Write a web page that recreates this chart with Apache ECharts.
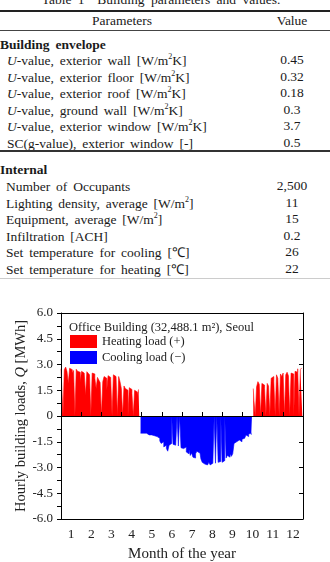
<!DOCTYPE html>
<html>
<head>
<meta charset="utf-8">
<script src="https://cdn.jsdelivr.net/npm/echarts@6/dist/echarts.min.js"></script>
<style>
body{margin:0;width:330px;height:562px;position:relative;overflow:hidden;background:#fff;font-family:'Liberation Serif','Times New Roman',serif;color:#1a1a1a;}
.t{position:absolute;white-space:nowrap;font-size:13.5px;line-height:16px;word-spacing:2.5px;}
.v{position:absolute;width:80px;left:252px;text-align:center;font-size:13.5px;line-height:16px;}
.rule{position:absolute;left:0;width:330px;background:#222;}
sup{font-size:8px;line-height:0;vertical-align:6px;}
#chart{position:absolute;left:0;top:290px;width:330px;height:272px;}
</style>
</head>
<body>
<div id="table"></div>
<div id="chart"></div>
<script>
// table text
var tableTitle = 'Table 1&nbsp; Building parameters and values.';
var envelopeRows = [
    ['<i>U</i>-value, exterior wall [W/m<sup>2</sup>K]', '0.45'],
    ['<i>U</i>-value, exterior floor [W/m<sup>2</sup>K]', '0.32'],
    ['<i>U</i>-value, exterior roof [W/m<sup>2</sup>K]', '0.18'],
    ['<i>U</i>-value, ground wall [W/m<sup>2</sup>K]', '0.3'],
    ['<i>U</i>-value, exterior window [W/m<sup>2</sup>K]', '3.7'],
    ['SC(g-value), exterior window [-]', '0.5']
];
var internalRows = [
    ['Number of Occupants', '2,500'],
    ['Lighting density, average [W/m<sup>2</sup>]', '11'],
    ['Equipment, average [W/m<sup>2</sup>]', '15'],
    ['Infiltration [ACH]', '0.2'],
    ['Set temperature for cooling [℃]', '26'],
    ['Set temperature for heating [℃]', '22']
];

// chart data: day of year of first point, one point every 2 days
var dayStep = 2;
var heatStartDay1 = 0;
var coolStartDay = 120;
var heatStartDay2 = 290;
var months = ['1','2','3','4','5','6','7','8','9','10','11','12'];
var heatJanApr = [
    2.75, 2.8, 0, 2.7, 2.85, 2.6, 1.9, 2.78, 2.7, 2.5, 2.65, 0, 2.72, 2.6, 2.55, 2.0,
    2.6, 2.62, 2.5, 1.2, 2.58, 2.55, 2.4, 0, 2.5, 2.45, 2.2, 1.6, 2.25, 2.1,
    1.95, 0, 2.0, 2.3, 2.2, 1.5, 2.35, 2.25, 2.1, 0, 2.4, 2.3, 2.2, 0, 2.3,
    2.0, 1.6, 0, 1.75, 1.6, 1.5, 0, 1.65, 1.55, 1.3, 0, 1.5, 1.4, 1.2, 1.55
];
var coolMayOct = [
    -1.0, -1.05, -1.0, -1.1, -1.0, -1.05, -1.1, -1.0,
    -1.1, -1.05, -1.15, -1.1, -1.2, -1.1, -1.3,
    -1.45, -1.6, -1.5, -1.8, -1.7,
    -1.9, -2.05, -1.7,
    -1.6, 0, -1.65, -1.7, -1.6, 0, -1.75, 0,
    -1.85, -1.9, -2.0, -1.8, -2.1, -2.2, -1.95, -2.3, -2.15, -2.4, -2.45, -2.2,
    -2.05, -2.15, -2.0, -2.5,
    -2.7, -2.8, -2.75, -2.85, -2.8, -2.7, -2.85, -2.75, -2.8,
    0, -2.75, 0, -2.7, -2.65, 0, -2.7, -2.6, 0,
    -2.45, -2.3, -2.4, -2.2, -2.35, -2.2,
    -1.6, -1.5, -1.55, -1.4, -1.3, -1.5, -1.35, -1.3,
    -1.2, -1.1, -1.2, -1.05, -1.0, -1.1
];
var heatOctDec = [
    1.6, 0.9, 0, 1.7, 2.0, 1.85, 0, 1.9, 1.8, 1.6, 0, 1.9, 1.75, 0,
    2.2, 2.3, 2.0, 0, 2.4, 2.2, 0, 2.45, 2.3, 2.5, 0, 2.4, 2.55, 2.35, 0,
    2.5, 2.45, 0, 2.6, 2.55, 2.75, 0, 2.7, 2.8
];

var serif = "'Liberation Serif','Times New Roman',serif";

function buildTable() {
    var html = '';
    html += '<div class="t" style="left:0;width:322px;text-align:center;top:-8px;word-spacing:3px;">' + tableTitle + '</div>';
    html += '<div class="rule" style="top:10px;height:2px;"></div>';
    html += '<div class="t" style="left:62px;width:120px;text-align:center;top:13px;word-spacing:0;">Parameters</div>';
    html += '<div class="v" style="top:13px;">Value</div>';
    html += '<div class="rule" style="top:30px;height:1px;background:#444;"></div>';
    html += '<div class="t" style="left:0;top:37px;font-weight:bold;">Building envelope</div>';
    for (var i = 0; i < envelopeRows.length; i++) {
        var y = 53 + i * 16.5;
        html += '<div class="t" style="left:7px;top:' + y + 'px;">' + envelopeRows[i][0] + '</div>';
        html += '<div class="v" style="top:' + (y - 1) + 'px;">' + envelopeRows[i][1] + '</div>';
    }
    html += '<div class="rule" style="top:150px;height:1.5px;background:#333;"></div>';
    html += '<div class="t" style="left:0;top:162px;font-weight:bold;">Internal</div>';
    for (var j = 0; j < internalRows.length; j++) {
        var y2 = 179 + j * 16.5;
        html += '<div class="t" style="left:6px;top:' + y2 + 'px;">' + internalRows[j][0] + '</div>';
        html += '<div class="v" style="top:' + (y2 - 1) + 'px;">' + internalRows[j][1] + '</div>';
    }
    html += '<div class="rule" style="top:278px;height:1px;background:#ccc;"></div>';
    document.getElementById('table').innerHTML = html;
}

function toPoints(start, vals) {
    return vals.map(function (v, i) { return [start + i * dayStep, v]; });
}

function loadSeries(name, color, start, vals) {
    return {
        name: name,
        type: 'line',
        xAxisIndex: 2,
        yAxisIndex: 0,
        step: 'middle',
        showSymbol: false,
        silent: true,
        z: 2,
        data: toPoints(start, vals),
        itemStyle: { color: color },
        lineStyle: { color: color, width: 0.6 },
        areaStyle: { color: color, opacity: 1 }
    };
}

buildTable();

var axisColor = '#000';
var chart = echarts.init(document.getElementById('chart'));
chart.setOption({
    animation: false,
    grid: { left: 61, right: 27, top: 23, bottom: 43, outerBoundsMode: 'none' },
    title: {
        text: 'Office Building (32,488.1 m²), Seoul',
        left: 69, top: 31, padding: 0,
        textStyle: { fontFamily: serif, fontSize: 12.5, fontWeight: 'normal', color: '#222' }
    },
    legend: {
        left: 70, top: 45, padding: 0,
        orient: 'vertical',
        itemWidth: 27, itemHeight: 13, itemGap: 3,
        icon: 'rect',
        selectedMode: false,
        data: ['Heating load (+)', 'Cooling load (−)'],
        textStyle: { fontFamily: serif, fontSize: 12.5, color: '#222' }
    },
    xAxis: [
        {
            type: 'category', data: months, position: 'bottom',
            axisLine: { onZero: false, lineStyle: { color: axisColor } },
            axisTick: { inside: true, length: 4, lineStyle: { color: axisColor } },
            axisLabel: { margin: 8, fontFamily: serif, fontSize: 13.5, color: '#222' },
            name: 'Month of the year', nameLocation: 'middle', nameGap: 28,
            nameMoveOverlap: false,
            nameTextStyle: { fontFamily: serif, fontSize: 15, color: '#222' },
            z: 5
        },
        {
            type: 'category', data: months, position: 'top',
            axisLine: { onZero: false, lineStyle: { color: axisColor } },
            axisTick: { inside: true, length: 4, lineStyle: { color: axisColor } },
            axisLabel: { show: false },
            z: 5
        },
        {
            type: 'value', min: 0, max: 365, interval: 365 / 12, position: 'bottom',
            axisLine: { onZero: true, lineStyle: { color: axisColor } },
            axisTick: { inside: true, length: 4, lineStyle: { color: axisColor } },
            axisLabel: { show: false },
            splitLine: { show: false },
            z: 5
        }
    ],
    yAxis: [
        {
            type: 'value', min: -6, max: 6, interval: 1.5, position: 'left',
            axisLine: { show: true, onZero: false, lineStyle: { color: axisColor } },
            axisTick: { show: true, length: 4, lineStyle: { color: axisColor } },
            minorTick: { show: true, splitNumber: 2, length: 4, lineStyle: { color: axisColor } },
            splitLine: { show: false },
            axisLabel: {
                margin: 8, fontFamily: serif, fontSize: 13, color: '#222',
                formatter: function (v) { return v === 0 ? '0' : v.toFixed(1); }
            },
            name: '{a|Hourly building loads, }{q|Q}{a| [MWh]}',
            nameLocation: 'middle', nameGap: 32,
            nameMoveOverlap: false,
            nameTextStyle: {
                fontFamily: serif, fontSize: 14.5, color: '#222',
                rich: {
                    a: { fontFamily: serif, fontSize: 14.5, color: '#222' },
                    q: { fontFamily: serif, fontSize: 14.5, color: '#222', fontStyle: 'italic' }
                }
            },
            z: 5
        },
        {
            type: 'value', min: -6, max: 6, interval: 1.5, position: 'right',
            axisLine: { show: true, onZero: false, lineStyle: { color: axisColor } },
            axisTick: { show: true, inside: true, length: 4, lineStyle: { color: axisColor } },
            axisLabel: { show: false },
            splitLine: { show: false },
            z: 5
        }
    ],
    series: [
        loadSeries('Heating load (+)', '#ff0000', heatStartDay1, heatJanApr),
        loadSeries('Cooling load (−)', '#0000ff', coolStartDay, coolMayOct),
        loadSeries('Heating load (+)', '#ff0000', heatStartDay2, heatOctDec)
    ]
});
</script>
</body>
</html>
